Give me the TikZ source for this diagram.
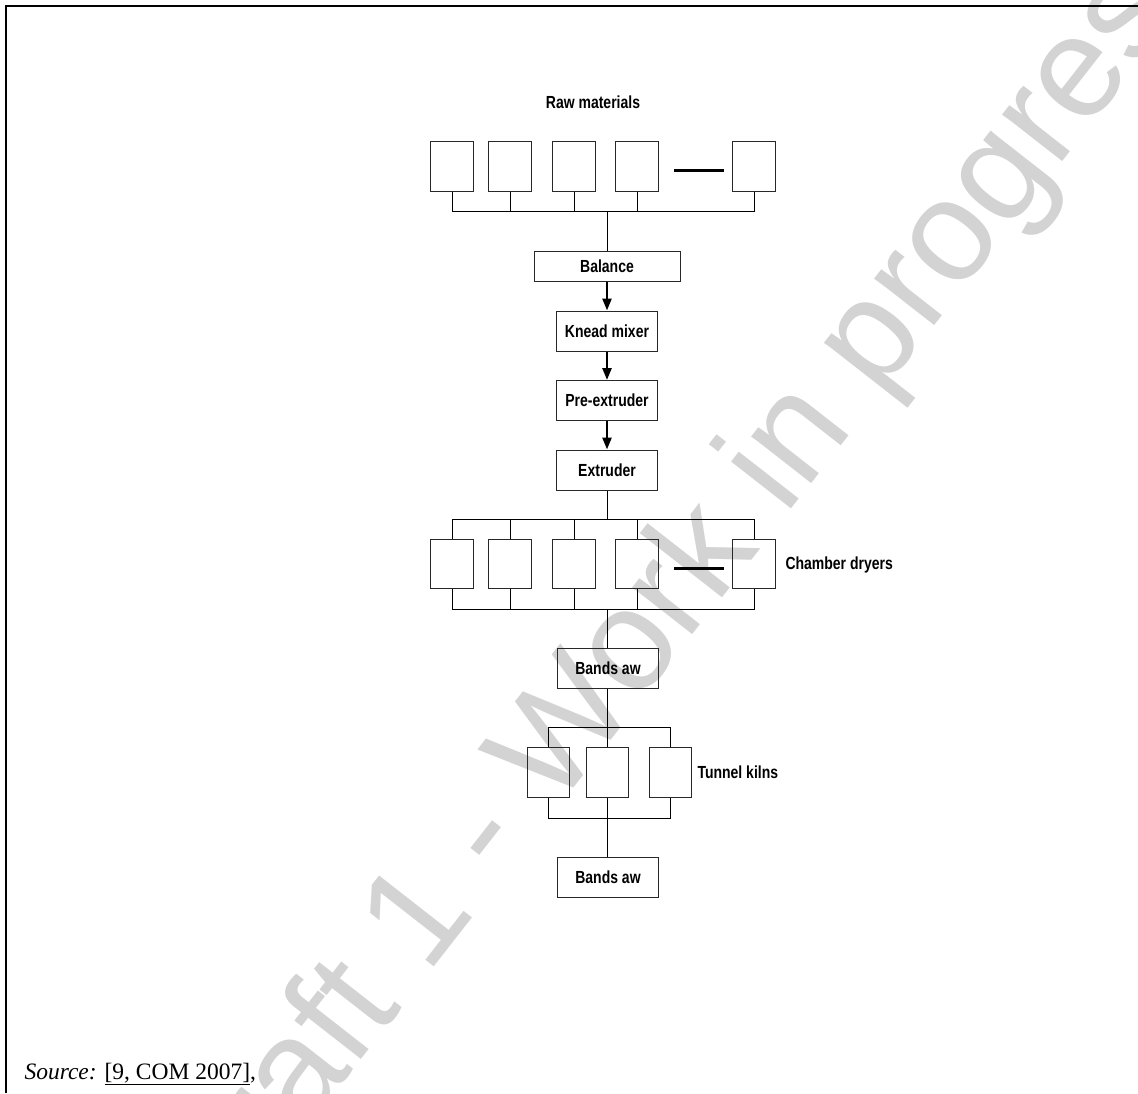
\documentclass[tikz,border=0pt]{standalone}
\usepackage{fontspec}
\setmainfont{Liberation Serif}
\newfontfamily\lblfont[FakeStretch=0.8]{Liberation Sans Bold}
\newfontfamily\wmfont{Liberation Sans}
\usetikzlibrary{arrows.meta,positioning}
\definecolor{wmgray}{RGB}{211,211,211}
\definecolor{linegray}{RGB}{40,40,40}

\begin{document}
\begin{tikzpicture}[x=1pt, y=-1pt, line width=1pt,
  unit/.style={draw=linegray, minimum width=43pt, minimum height=50pt, inner sep=0pt},
  stepbox/.style={draw=linegray, font=\lblfont\fontsize{17.5}{20}\selectfont,
    minimum width=101pt, minimum height=40pt, inner sep=0pt},
  lbl/.style={font=\lblfont\fontsize{17.5}{20}\selectfont, inner sep=0pt},
  gap/.style={line width=3pt},
  flow/.style={-{Triangle[width=9pt,length=12pt]}, line width=2.5pt}]
  \useasboundingbox (0,0) rectangle (1138,1093);
  % watermark
  \begin{scope}
    \clip (0,0) rectangle (1138,1093);
    \node[font=\wmfont\fontsize{144}{144}\selectfont, text=wmgray, rotate=52,
      inner sep=0pt] (wm) at (688,581) {Draft 1 - Work in progress};
  \end{scope}
  \draw[line width=2pt] (1138,6) -- (6,6) -- (6,1093);

  % raw materials
  \node[lbl] (rawlbl) at (593,102) {Raw materials};
  \foreach \n/\x in {1/452,2/510,3/574,4/637,5/754}
    \node[unit] (r\n) at (\x,166) {};
  \coordinate (rawbus) at (607,211);
  \foreach \n in {1,...,5}
    \draw (r\n.south) |- (rawbus);
  \draw[gap] ([xshift=15pt,yshift=-4pt]r4.east) -- ([xshift=-8pt,yshift=-4pt]r5.west);

  % main line
  \node[stepbox, minimum width=146pt, minimum height=30pt] (bal) at (607,266) {Balance};
  \node[stepbox] (knead) at (607,331) {Knead mixer};
  \node[stepbox] (pre) at (607,400.5) {Pre-extruder};
  \node[stepbox] (ext) at (607,470) {Extruder};
  \draw (rawbus) -- (bal);
  \draw[flow] (bal) -- (knead);
  \draw[flow] (knead) -- (pre);
  \draw[flow] (pre) -- (ext);

  % chamber dryers
  \foreach \n/\x in {1/452,2/510,3/574,4/637,5/754}
    \node[unit, minimum height=49pt] (d\n) at (\x,563.5) {};
  \coordinate (dtop) at (607,519);
  \coordinate (dbot) at (607,609);
  \foreach \n in {1,...,5} {
    \draw (d\n.north) |- (dtop);
    \draw (d\n.south) |- (dbot);
  }
  \draw (ext) -- (dtop);
  \draw[gap] ([xshift=15pt,yshift=-5pt]d4.east) -- ([xshift=-8pt,yshift=-5pt]d5.west);
  \node[lbl, anchor=west] (drylbl) at (785,565) {Chamber dryers};

  % tunnel kilns
  \node[stepbox] (saw1) at (608,668.5) {Bands aw};
  \draw (dbot) -- (dbot |- saw1.north);
  \foreach \n/\x in {1/548,2/607,3/670}
    \node[unit, minimum width=42pt] (k\n) at (\x,772) {};
  \coordinate (ktop) at (607,727);
  \coordinate (kbot) at (607,818);
  \draw (saw1.south -| ktop) -- (ktop);
  \foreach \n in {1,2,3} {
    \draw (k\n.north) |- (ktop);
    \draw (k\n.south) |- (kbot);
  }
  \node[lbl, anchor=west] (kilnlbl) at (697,772) {Tunnel kilns};
  \node[stepbox] (saw2) at (608,877.5) {Bands aw};
  \draw (kbot) -- (kbot |- saw2.north);

  \node[anchor=base west, font=\fontsize{23.5}{27}\selectfont, inner sep=0pt] (src)
    at (24,1079) {\textit{Source:} \underline{[9, COM 2007]},};
\end{tikzpicture}
\end{document}
